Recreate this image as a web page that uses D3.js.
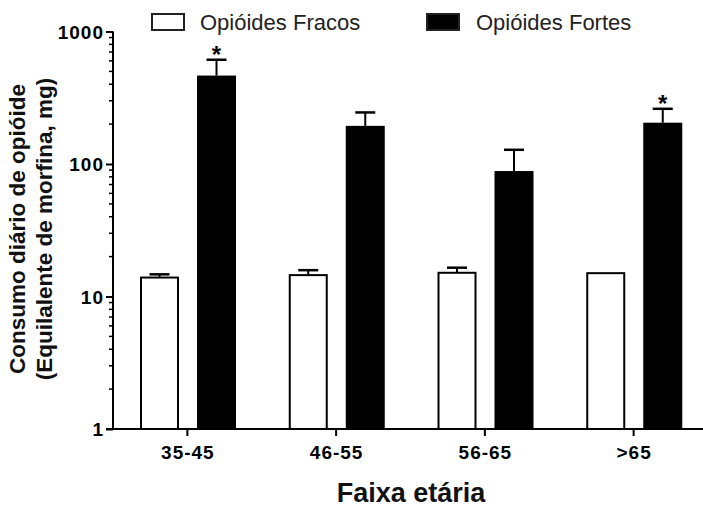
<!DOCTYPE html>
<html>
<head>
<meta charset="utf-8">
<script src="https://cdn.jsdelivr.net/npm/d3@7"></script>
<style>
  html, body { margin: 0; padding: 0; background: #fff; }
  svg { display: block; }
</style>
</head>
<body>
<svg id="chart" width="703" height="507"></svg>
<script>
// ---- data ----
const categories = ["35-45", "46-55", "56-65", ">65"];
const seriesNames = ["Opióides Fracos", "Opióides Fortes"];
const fracosMean = [13.9, 14.5, 15.1, 15.0];
const fracosErr  = [0.8, 1.3, 1.4, 0];
const fortesMean = [465, 194, 88.5, 205];
const fortesErr  = [147, 51, 39.5, 56];
const significant = ["35-45", ">65"]; // asterisks over Opióides Fortes
const yTickValues = [1, 10, 100, 1000];
const xTitle = "Faixa etária";
const yTitleLines = ["Consumo diário de opióide", "(Equilalente de morfina, mg)"];

const rows = categories.map((c, i) => ({
  cat: c,
  vals: [
    { s: seriesNames[0], v: fracosMean[i], e: fracosErr[i] },
    { s: seriesNames[1], v: fortesMean[i], e: fortesErr[i] }
  ]
}));

const svg = d3.select("#chart");
const fill = { [seriesNames[0]]: "#fff", [seriesNames[1]]: "#000" };

const x0 = d3.scaleBand().domain(categories).range([113, 708]).padding(0);
const x1 = d3.scaleBand().domain(seriesNames).range([27, 123]).paddingInner(0.316).paddingOuter(0);
const y = d3.scaleLog().domain([1, 1000]).range([429, 31.5]);

// ---- bars ----
const g = svg.append("g");
const grp = g.selectAll("g.cat").data(rows).join("g")
  .attr("transform", d => `translate(${x0(d.cat)},0)`);

grp.selectAll("line.err").data(d => d.vals.filter(v => v.e > 0)).join("line")
  .attr("x1", d => x1(d.s) + x1.bandwidth() / 2)
  .attr("x2", d => x1(d.s) + x1.bandwidth() / 2)
  .attr("y1", d => y(d.v)).attr("y2", d => y(d.v + d.e))
  .attr("stroke", "#000").attr("stroke-width", 2);
grp.selectAll("line.cap").data(d => d.vals.filter(v => v.e > 0)).join("line")
  .attr("x1", d => x1(d.s) + x1.bandwidth() / 2 - 10)
  .attr("x2", d => x1(d.s) + x1.bandwidth() / 2 + 10)
  .attr("y1", d => y(d.v + d.e)).attr("y2", d => y(d.v + d.e))
  .attr("stroke", "#000").attr("stroke-width", 2.5);

grp.selectAll("rect").data(d => d.vals).join("rect")
  .attr("x", d => x1(d.s) + (d.s === seriesNames[0] ? 1 : 0))
  .attr("width", d => x1.bandwidth() - (d.s === seriesNames[0] ? 2 : 0))
  .attr("y", d => y(d.v))
  .attr("height", d => y(1) - y(d.v))
  .attr("fill", d => fill[d.s])
  .attr("stroke", "#000")
  .attr("stroke-width", d => d.s === seriesNames[0] ? 2 : 0);

// asterisks
g.selectAll("text.star").data(rows.filter(r => significant.includes(r.cat))).join("text")
  .attr("x", d => x0(d.cat) + x1(seriesNames[1]) + x1.bandwidth() / 2)
  .attr("y", d => y(d.vals[1].v + d.vals[1].e) + 3)
  .attr("text-anchor", "middle")
  .attr("font-family", "Liberation Sans, Arial, sans-serif")
  .attr("font-weight", "bold").attr("font-size", 24)
  .text("*");

const tickFont = sel => sel
  .attr("font-family", "Liberation Sans, Arial, sans-serif").attr("font-weight", "bold")
  .attr("font-size", 19).attr("letter-spacing", 1).attr("fill", "#000");

// ---- y axis ----
const minor = [];
for (let k = 0; k < 3; k++) for (let m = 2; m <= 9; m++) minor.push(m * Math.pow(10, k));
const yAx = svg.append("g").attr("transform", "translate(113,0)");
yAx.call(d3.axisLeft(y).tickValues(yTickValues).tickFormat(d3.format("d")).tickSize(7).tickPadding(2));
yAx.selectAll(".minor").data(minor).join("line").attr("class", "minor")
  .attr("x1", -4).attr("x2", 0).attr("y1", d => y(d)).attr("y2", d => y(d))
  .attr("stroke", "#000").attr("stroke-width", 1.5);
yAx.select(".domain").attr("stroke-width", 2).attr("d", `M0,${y(1000)}V${y(1)}`);
yAx.selectAll(".tick line").attr("stroke-width", 2);
yAx.selectAll(".tick text").call(tickFont).attr("dy", "0.36em");

// ---- x axis ----
const xAx = svg.append("g").attr("transform", `translate(0,${y(1)})`);
xAx.call(d3.axisBottom(x0).tickSize(7).tickPadding(10));
xAx.select(".domain").attr("stroke-width", 2).attr("d", "M106,0H708");
xAx.selectAll(".tick line").attr("stroke-width", 2);
xAx.selectAll(".tick text").call(tickFont).attr("dy", "0.71em").attr("dx", 0.5);

// ---- titles ----
svg.append("text").attr("x", 411).attr("y", 502).attr("text-anchor", "middle")
  .attr("font-family", "Liberation Sans, Arial, sans-serif").attr("font-weight", "bold")
  .attr("font-size", 27).attr("fill", "#111").text(xTitle);

svg.selectAll("text.ylab").data(yTitleLines).join("text")
  .attr("class", "ylab")
  .attr("transform", (d, i) => `translate(${i === 0 ? 25 : 52},229) rotate(-90)`)
  .attr("text-anchor", "middle")
  .attr("font-family", "Liberation Sans, Arial, sans-serif").attr("font-weight", "bold")
  .attr("font-size", 22.5).attr("fill", "#111").text(d => d);

// ---- legend ----
const legX = [152, 427];
const leg = svg.selectAll("g.leg").data(seriesNames).join("g")
  .attr("transform", (d, i) => `translate(${legX[i]},14)`);
leg.append("rect").attr("x", 0).attr("y", 0).attr("width", 32).attr("height", 16)
  .attr("fill", d => d === seriesNames[0] ? "#fff" : "#000")
  .attr("stroke", "#222").attr("stroke-width", 2);
leg.append("text").attr("x", d => d === seriesNames[0] ? 48 : 49).attr("y", 16)
  .attr("font-family", "Liberation Sans, Arial, sans-serif")
  .attr("font-size", 22).attr("fill", "#222").text(d => d);
</script>
</body>
</html>
